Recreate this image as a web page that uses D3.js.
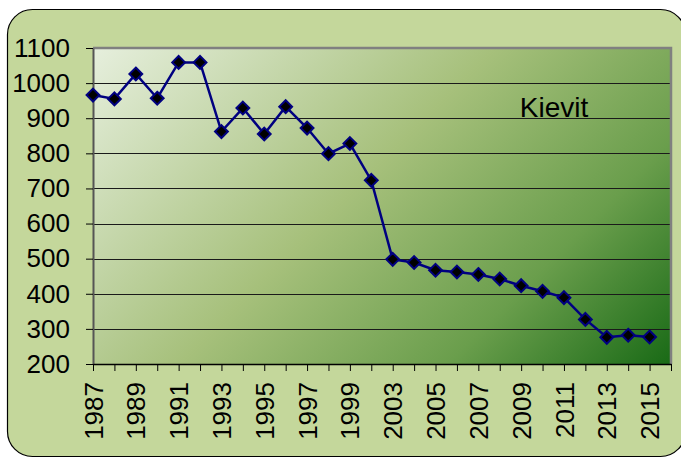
<!DOCTYPE html>
<html>
<head>
<meta charset="utf-8">
<script src="https://d3js.org/d3.v7.min.js"></script>
<style>
  body { margin: 0; background: #fff; }
  svg { display: block; }
</style>
</head>
<body>
<div class="wrapper"></div>
<script>
// categories (2001 and 2002 missing in the source series)
var years = ["1987", "1988", "1989", "1990", "1991", "1992", "1993", "1994", "1995",
  "1996", "1997", "1998", "1999", "2000", "2003", "2004", "2005", "2006", "2007",
  "2008", "2009", "2010", "2011", "2012", "2013", "2014", "2015"];
// counts
var counts = [966, 955, 1026, 957, 1059, 1059, 862, 929, 855, 933, 872, 799, 828,
  723, 498, 489, 467, 462, 455, 442, 423, 407, 389, 327, 276, 282, 277];
var yTicks = [200, 300, 400, 500, 600, 700, 800, 900, 1000, 1100];
var seriesName = "Kievit";

var W = 681, H = 458;
var plot = {left: 93, right: 671, top: 48, bottom: 364};

var svg = d3.select(".wrapper")
  .append("svg")
  .attr("width", W)
  .attr("height", H);

// 45 degree gradient over the plot area
var pw = plot.right - plot.left, ph = plot.bottom - plot.top;
var half = (pw + ph) / 2;
var defs = svg.append("defs");
var grad = defs.append("linearGradient")
  .attr("id", "plotFill")
  .attr("gradientUnits", "userSpaceOnUse")
  .attr("x1", plot.left).attr("y1", plot.top)
  .attr("x2", plot.left + half).attr("y2", plot.top + half);
grad.append("stop").attr("offset", "0%").attr("stop-color", "#e6efdd");
grad.append("stop").attr("offset", "45%").attr("stop-color", "#a6c07b");
grad.append("stop").attr("offset", "75%").attr("stop-color", "#6a9e4c");
grad.append("stop").attr("offset", "100%").attr("stop-color", "#196a16");

// chart area
svg.append("rect")
  .attr("x", 7.5).attr("y", 9.5)
  .attr("width", 678).attr("height", 447)
  .attr("rx", 25).attr("ry", 25)
  .style("fill", "#c4d79b")
  .style("stroke", "#000")
  .style("stroke-width", 1.2);

// scales
var x = d3.scaleLinear()
  .domain([0, years.length])
  .range([plot.left, plot.right]);

var y = d3.scaleLinear()
  .domain([200, 1100])
  .range([plot.bottom, plot.top]);

// plot area
svg.append("rect")
  .attr("x", plot.left).attr("y", plot.top)
  .attr("width", pw)
  .attr("height", ph)
  .style("fill", "url(#plotFill)");

// gridlines
svg.append("g")
  .selectAll("line")
  .data(yTicks.filter(function(d) { return d > 200 && d < 1100; }))
  .enter()
  .append("line")
  .attr("x1", plot.left).attr("x2", plot.right)
  .attr("y1", function(d) { return Math.round(y(d)) + 0.5; })
  .attr("y2", function(d) { return Math.round(y(d)) + 0.5; })
  .style("stroke", "#1a1a1a")
  .style("stroke-width", 1.2);

// plot border top / right
svg.append("path")
  .attr("d", "M" + plot.left + "," + plot.top + "H" + plot.right + "V" + plot.bottom)
  .style("fill", "none")
  .style("stroke", "#808080")
  .style("stroke-width", 2.5);

// y axis
var yAxis = svg.append("g")
  .attr("transform", "translate(" + plot.left + ",0)")
  .call(d3.axisLeft(y).tickValues(yTicks).tickFormat(d3.format("d"))
    .tickSize(7).tickPadding(16).tickSizeOuter(0));
yAxis.select(".domain").style("stroke", "#555").style("stroke-width", 2);
yAxis.selectAll(".tick line").style("stroke", "#000");
yAxis.selectAll("text")
  .style("font-family", "Liberation Sans, Arial, sans-serif")
  .style("font-size", "26px")
  .style("fill", "#000");

// x axis
var xAxis = svg.append("g")
  .attr("transform", "translate(0," + plot.bottom + ")")
  .call(d3.axisBottom(x)
    .tickValues(d3.range(years.length + 1))
    .tickSize(7)
    .tickSizeOuter(0)
    .tickFormat(function(i) { return (i % 2 == 0 && i < years.length) ? years[i] : ""; }));
xAxis.select(".domain").style("stroke", "#000").style("stroke-width", 1.5);
xAxis.selectAll(".tick line").style("stroke", "#000");
xAxis.selectAll("text")
  .attr("transform", "rotate(-90)")
  .attr("x", -18)
  .attr("y", 0)
  .attr("dy", "0.35em")
  .style("text-anchor", "end")
  .style("font-family", "Liberation Sans, Arial, sans-serif")
  .style("font-size", "26px")
  .style("fill", "#000");

// line
var line = d3.line()
  .x(function(d, i) { return x(i); })
  .y(function(d) { return y(d); });

svg.append("path")
  .datum(counts)
  .attr("d", line)
  .style("fill", "none")
  .style("stroke", "#000080")
  .style("stroke-width", 2.5);

// markers
svg.selectAll("myMarker")
  .data(counts)
  .enter()
  .append("path")
  .attr("d", d3.symbol().type(d3.symbolDiamond2).size(105))
  .attr("transform", function(d, i) { return "translate(" + x(i) + "," + y(d) + ")"; })
  .style("fill", "#000")
  .style("stroke", "#000080")
  .style("stroke-width", 2);

// series label
svg.append("text")
  .attr("x", 554)
  .attr("y", 117)
  .style("text-anchor", "middle")
  .style("font-family", "Liberation Sans, Arial, sans-serif")
  .style("font-size", "28px")
  .style("fill", "#000")
  .text(seriesName);
</script>
</body>
</html>
